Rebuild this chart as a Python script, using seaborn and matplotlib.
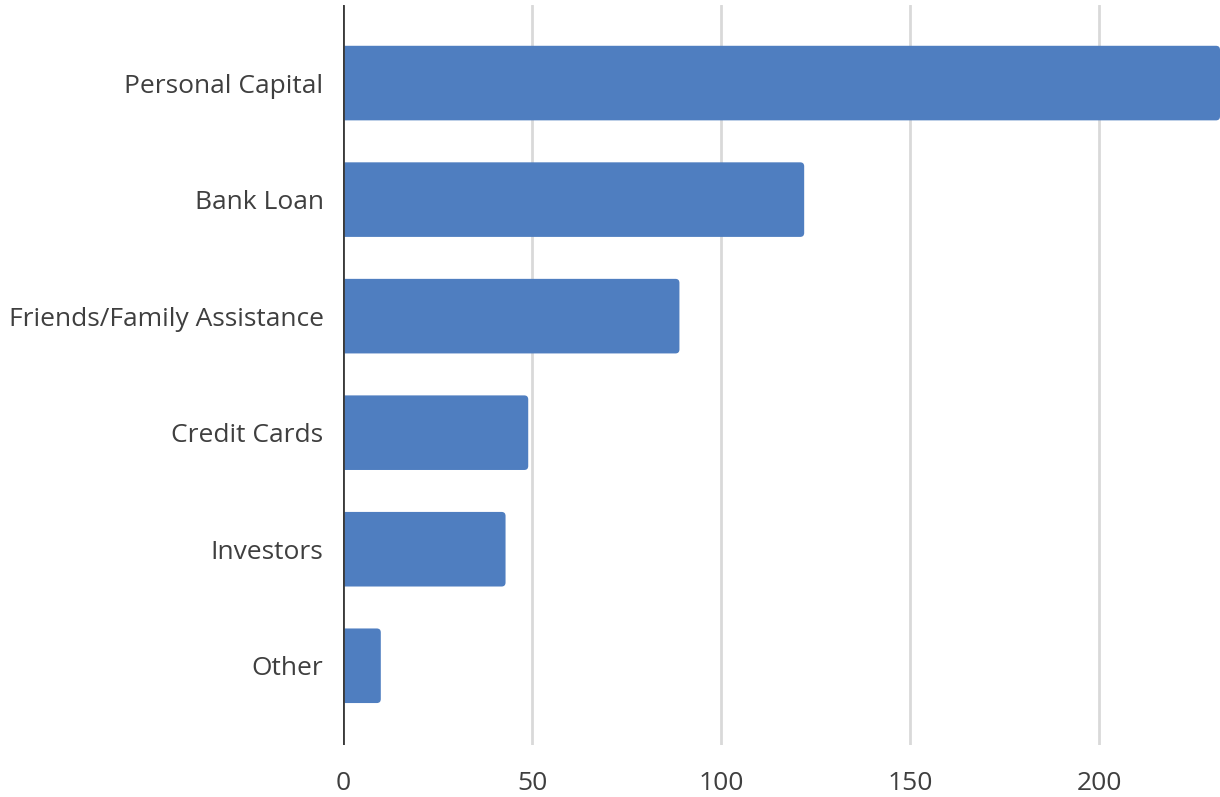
import matplotlib
matplotlib.use("Agg")
import matplotlib.pyplot as plt
from matplotlib.patches import FancyBboxPatch
import seaborn as sns
import pandas as pd

sources = ["Personal Capital", "Bank Loan", "Friends/Family Assistance",
           "Credit Cards", "Investors", "Other"]
counts = [232, 122, 89, 49, 43, 10]
x_ticks = [0, 50, 100, 150, 200]

sns.set_theme(style="white")
plt.rcParams["font.family"] = ["Open Sans", "DejaVu Sans"]

df = pd.DataFrame({"source": sources, "count": counts})

fig = plt.figure(figsize=(12.2, 7.97), dpi=100)
ax = fig.add_axes([343 / 1220, 1 - 745 / 797, 1 - 343 / 1220, 740 / 797])

bar_color = "#4F7EC0"
sns.barplot(data=df, y="source", x="count", orient="h", color=bar_color,
            width=0.64, saturation=1, ax=ax, zorder=2)

ax.set_xlim(0, max(counts))
ax.set_ylim(5.68, -0.67)

# swap the plain rectangles for ones with softly rounded ends
fig.canvas.draw()
px_per_x = ax.transData.transform((1, 0))[0] - ax.transData.transform((0, 0))[0]
px_per_y = abs(ax.transData.transform((0, 1))[1] - ax.transData.transform((0, 0))[1])
r_px = 4.0
r_x = r_px / px_per_x
aspect = px_per_x / px_per_y
for bar in list(ax.patches):
    x0, y0 = bar.get_x(), bar.get_y()
    w, h = bar.get_width(), bar.get_height()
    rounded = FancyBboxPatch((x0 - 2 * r_x, y0), w + 2 * r_x, h,
                             boxstyle=f"round,pad=0,rounding_size={r_x}",
                             mutation_aspect=aspect,
                             facecolor=bar_color, edgecolor="none", zorder=2)
    ax.add_patch(rounded)
    rounded.set_clip_path(ax.patch)
    bar.remove()

ax.set_xticks(x_ticks)
ax.xaxis.grid(True, color="#d9d9d9", linewidth=2)
ax.set_axisbelow(True)
ax.axvline(0, color="#3a3a3a", linewidth=2, zorder=3)

for side in ["top", "right", "bottom", "left"]:
    ax.spines[side].set_visible(False)

ax.set_xlabel("")
ax.set_ylabel("")
ax.tick_params(axis="both", length=0, labelsize=19, labelcolor="#3f3f3f")
ax.tick_params(axis="x", pad=19)
ax.tick_params(axis="y", pad=14)

fig.savefig("out.png", dpi=100)
